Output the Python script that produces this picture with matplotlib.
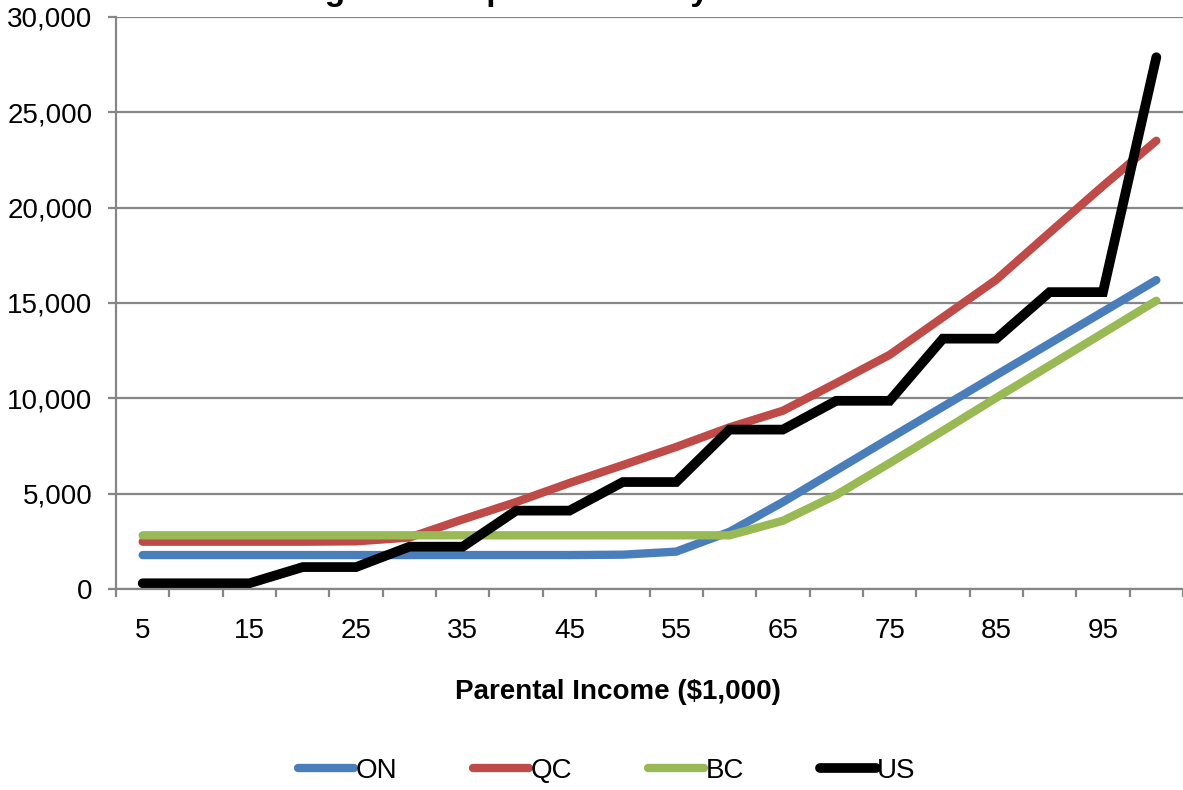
import matplotlib
matplotlib.use('Agg')
import matplotlib.pyplot as plt
from matplotlib.ticker import FuncFormatter

# Chart data
income = [5, 10, 15, 20, 25, 30, 35, 40, 45, 50, 55, 60, 65, 70, 75, 80, 85, 90, 95, 100]
on_vals = [1780, 1780, 1780, 1780, 1780, 1780, 1780, 1780, 1780, 1800, 1960, 3000, 4560, 6230, 7900, 9560, 11220, 12880, 14540, 16200]
qc_vals = [2480, 2480, 2480, 2480, 2500, 2700, 3650, 4560, 5560, 6500, 7450, 8480, 9350, 10800, 12280, 14250, 16220, 18690, 21140, 23510]
bc_vals = [2815, 2815, 2815, 2815, 2815, 2815, 2815, 2815, 2815, 2815, 2815, 2815, 3580, 4930, 6600, 8300, 10030, 11720, 13420, 15120]
us_vals = [300, 300, 300, 1150, 1150, 2220, 2220, 4110, 4110, 5610, 5610, 8360, 8360, 9870, 9870, 13130, 13130, 15570, 15570, 27890]
series_names = ['ON', 'QC', 'BC', 'US']
y_ticks = [0, 5000, 10000, 15000, 20000, 25000, 30000]

plt.rcParams['font.family'] = ['Liberation Sans', 'DejaVu Sans']
grey = '#868686'

fig = plt.figure(figsize=(11.83, 7.90), dpi=100)
ax = fig.add_axes([116 / 1183, (790 - 589) / 790, (1183 - 116) / 1183, (589 - 17) / 790])

pos = list(range(len(income)))
styles = [('#4A7EBB', 6.0), ('#BE4B48', 6.0), ('#98B954', 6.0), ('#000000', 7.0)]
for vals, name, (col, lw) in zip([on_vals, qc_vals, bc_vals, us_vals], series_names, styles):
    ax.plot(pos, vals, color=col, lw=lw, label=name,
            solid_capstyle='round', solid_joinstyle='miter')

ax.set_xlim(-0.5, len(income) - 0.5)
ax.set_ylim(0, 30000)
ax.set_yticks(y_ticks)
ax.yaxis.set_major_formatter(FuncFormatter(lambda v, p: '{:,.0f}'.format(v)))
ax.grid(axis='y', color=grey, lw=1.6)
ax.set_axisbelow(True)

# category boundaries get the tick marks, labels sit on every other category
ax.set_xticks([i - 0.5 for i in range(len(income) + 1)])
ax.set_xticklabels([])
ax.set_xticks(pos[::2], minor=True)
ax.set_xticklabels([str(v) for v in income[::2]], minor=True)
ax.tick_params(axis='x', which='major', length=6, width=1.6, color=grey, direction='out')
ax.tick_params(axis='x', which='minor', length=0, pad=21, labelsize=20)
ax.tick_params(axis='y', length=6, width=1.6, color=grey, direction='out', pad=11, labelsize=20)

for side in ['top', 'right']:
    ax.spines[side].set_visible(False)
for side in ['left', 'bottom']:
    ax.spines[side].set_color(grey)
    ax.spines[side].set_linewidth(1.6)

fig.text(618 / 1183, 1 - 692 / 790, 'Parental Income ($1,000)', ha='center', va='center',
         fontsize=20, fontweight='bold')
# title sits mostly above the top edge, as in the source image
fig.text(607 / 1183, 1 - 0.3 / 790, 'Figure 1: Expected Family Contribution', ha='center',
         va='baseline', fontsize=24, fontweight='bold')

fig.legend(loc='center', bbox_to_anchor=(607 / 1183, 1 - 771 / 790), ncol=4, frameon=False,
           fontsize=20, handlelength=2.0, handletextpad=0.05, columnspacing=2.75)

fig.savefig('out.png', dpi=100)
